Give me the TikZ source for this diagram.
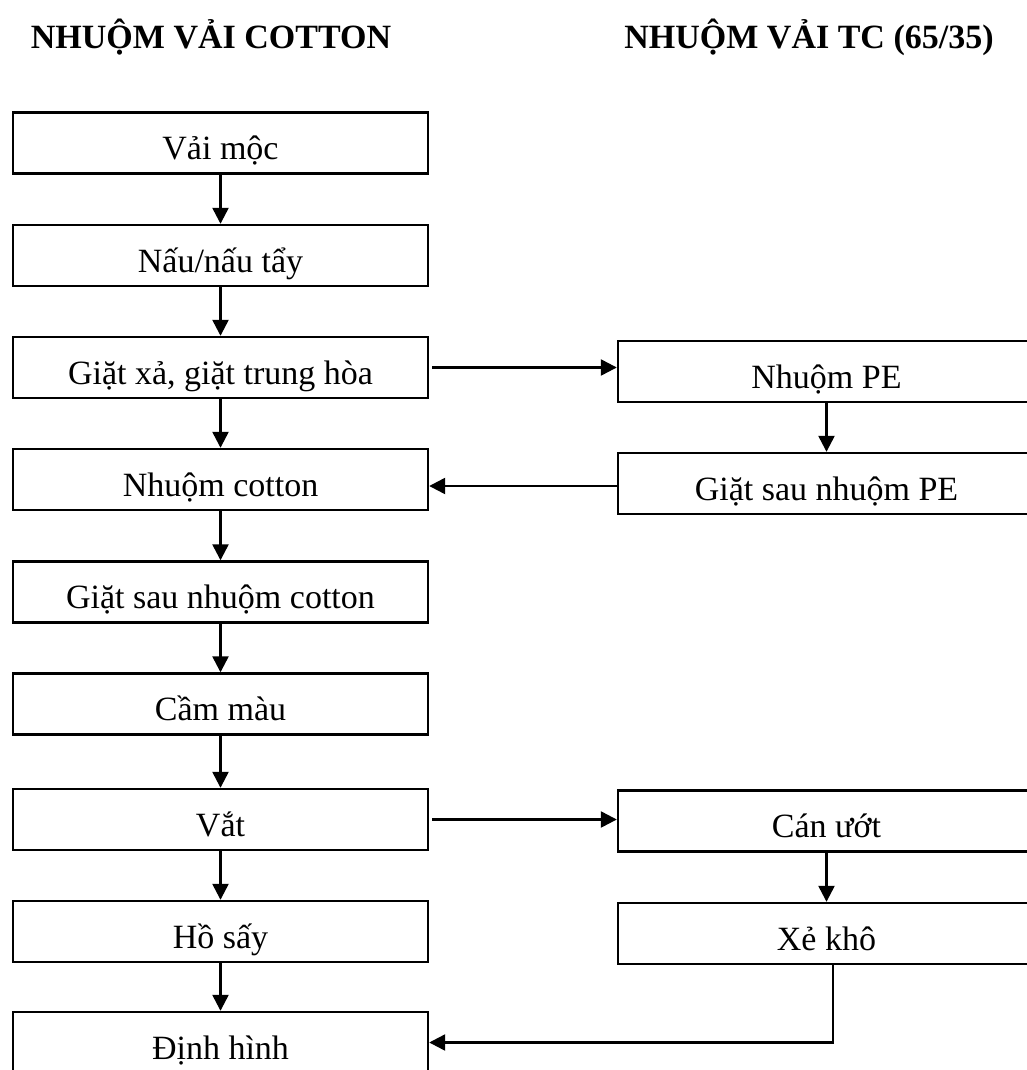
\documentclass[tikz,border=0pt]{standalone}
\usepackage{fontspec}
\setmainfont{Liberation Serif}
\usetikzlibrary{arrows.meta}
\begin{document}
\begin{tikzpicture}[x=1pt,y=-1pt,
  box/.style={draw, line width=2.4pt, minimum width=415pt, minimum height=61pt, inner sep=0pt, text height=36pt, text depth=3pt, font=\fontsize{34}{40}\selectfont},
  rbox/.style={box, minimum width=417pt},
  arr/.style={line width=2.4pt, -{Triangle[length=16pt,width=16pt]}},
  ttl/.style={font=\fontsize{34}{40}\selectfont\bfseries, anchor=base, inner sep=0pt}]
\useasboundingbox (0,0) rectangle (1027,1070);
\clip (0,0) rectangle (1027,1070);
\node[ttl] (t1) at (211,49) {NHUỘM VẢI COTTON};
\node[ttl] (t2) at (809,49) {NHUỘM VẢI TC (65/35)};
% left column
\node[box] (vm) at (220.5,143) {Vải mộc};
\node[box] (nt) at (220.5,255.5) {Nấu/nấu tẩy};
\node[box] (gx) at (220.5,367.5) {Giặt xả, giặt trung hòa};
\node[box] (nc) at (220.5,479.5) {Nhuộm cotton};
\node[box] (gc) at (220.5,592) {Giặt sau nhuộm cotton};
\node[box] (cm) at (220.5,704) {Cầm màu};
\node[box] (va) at (220.5,819.5) {Vắt};
\node[box] (hs) at (220.5,931.5) {Hồ sấy};
\node[box] (dh) at (220.5,1042.5) {Định hình};
% right column
\node[rbox] (pe) at (826.5,371.5) {Nhuộm PE};
\node[rbox] (pe2) at (826.5,483.5) {Giặt sau nhuộm PE};
\node[rbox] (cu) at (826.5,821) {Cán ướt};
\node[rbox] (xk) at (826.5,933.5) {Xẻ khô};
% vertical arrows
\foreach \a/\b in {vm/nt, nt/gx, gx/nc, nc/gc, gc/cm, cm/va, va/hs, hs/dh, pe/pe2, cu/xk}
  \draw[arr] (\a.south) -- (\b.north);
% horizontal arrows
\draw[arr, shorten <=3pt] (gx.east) -- (gx.east -| pe.west);
\draw[arr] (pe2.west |- 0,486) -- (nc.east |- 0,486);
\draw[arr, shorten <=3pt] (va.east) -- (va.east -| cu.west);
\draw[arr] ([xshift=6.5pt]xk.south) |- (dh.east);
\end{tikzpicture}
\end{document}
